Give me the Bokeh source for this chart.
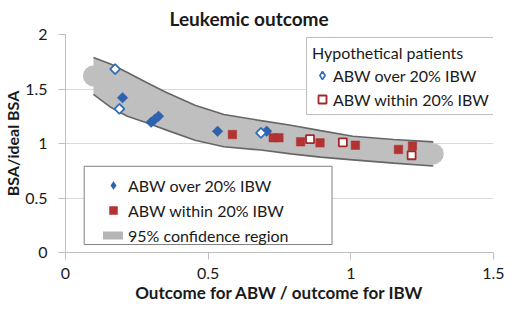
import numpy as np
from bokeh.plotting import figure
from bokeh.models import Legend, LegendItem, FixedTicker, BoxAnnotation
from bokeh.embed import file_html
from bokeh.resources import INLINE

# ---------------- data ----------------
x_ticks = [0, 0.5, 1, 1.5]
x_tick_labels = ["0", "0.5", "1", "1.5"]
y_ticks = [0, 0.5, 1, 1.5, 2]
y_tick_labels = ["0", "0.5", "1", "1.5", "2"]

# observed patients
over_x = [0.200, 0.300, 0.313, 0.326, 0.533, 0.705]
over_y = [1.420, 1.195, 1.222, 1.250, 1.112, 1.113]
within_x = [0.585, 0.728, 0.748, 0.824, 0.892, 1.016, 1.167, 1.216]
within_y = [1.082, 1.053, 1.053, 1.015, 1.006, 0.985, 0.945, 0.978]

# hypothetical patients
hyp_over_x = [0.174, 0.189, 0.685]
hyp_over_y = [1.682, 1.318, 1.098]
hyp_within_x = [0.857, 0.972, 1.213]
hyp_within_y = [1.040, 1.011, 0.892]

# 95% confidence region (upper / lower edges)
band_x = [0.098, 0.16, 0.217, 0.284, 0.352, 0.454, 0.555, 0.685, 0.79, 0.894, 1.007, 1.15, 1.289]
band_upper = [1.79, 1.727, 1.652, 1.56, 1.47, 1.35, 1.266, 1.21, 1.167, 1.118, 1.067, 1.037, 1.015]
band_lower = [1.45, 1.33, 1.25, 1.19, 1.125, 1.03, 0.97, 0.94, 0.905, 0.875, 0.85, 0.82, 0.794]

FONT = "Lato"
TXT = "#1a1a1a"
BLUE = "#2E62AE"
RED = "#B33333"
BAND = "#bfbfbf"
EDGE = "#666666"
NAN = [np.nan]

p = figure(width=504, height=307, x_range=(0, 1.5), y_range=(0, 2),
           output_backend="svg", toolbar_location=None,
           min_border_left=58, min_border_right=11,
           min_border_top=32, min_border_bottom=55)
p.outline_line_color = None
p.xgrid.visible = False
p.ygrid.grid_line_color = "#d9d9d9"
p.ygrid.grid_line_width = 1

# title
p.title.text = "Leukemic outcome"
p.title.align = "left"
p.title.offset = 104
p.title.text_font = FONT
p.title.text_font_size = "19px"
p.title.text_font_style = "bold"
p.title.text_color = TXT
p.title.standoff = 9

for ax in (p.xaxis[0], p.yaxis[0]):
    ax.axis_line_color = "#bfbfbf"
    ax.major_tick_line_color = "#bfbfbf"
    ax.minor_tick_line_color = None
    ax.major_tick_in = 0
    ax.major_tick_out = 7
    ax.major_label_text_font = FONT
    ax.major_label_text_font_size = "16px"
    ax.major_label_text_color = TXT
    ax.axis_label_text_font = FONT
    ax.axis_label_text_font_style = "bold"
    ax.axis_label_text_color = TXT
    ax.axis_label_standoff = 0

p.xaxis.ticker = FixedTicker(ticks=x_ticks)
p.xaxis.major_label_overrides = {t: l for t, l in zip(x_ticks, x_tick_labels)}
p.xaxis.major_label_standoff = 8
p.xaxis.axis_label = "Outcome for ABW / outcome for IBW"
p.xaxis.axis_label_text_font_size = "17px"
p.yaxis.ticker = FixedTicker(ticks=y_ticks)
p.yaxis.major_label_overrides = {t: l for t, l in zip(y_ticks, y_tick_labels)}
p.yaxis.major_label_standoff = 11
p.yaxis.axis_label = "BSA/ideal BSA"
p.yaxis.axis_label_text_font_size = "16px"

# confidence band
band_mid = [(u + l) / 2 for u, l in zip(band_upper, band_lower)]
p.varea(x=band_x, y1=band_lower, y2=band_upper, fill_color=BAND)
p.scatter(x=[band_x[0], band_x[-1]], y=[band_mid[0], band_mid[-1]], marker="circle",
          size=21, fill_color=BAND, line_color=None)
p.line(x=band_x, y=band_upper, line_color=EDGE, line_width=1.6)
p.line(x=band_x, y=band_lower, line_color=EDGE, line_width=1.6)

# points
r_over = p.scatter(x=over_x, y=over_y, marker="square", angle=np.pi / 4, size=7.5,
                   fill_color=BLUE, line_color=BLUE, line_width=0.5)
r_within = p.scatter(x=within_x, y=within_y, marker="square", size=8.5,
                     fill_color=RED, line_color=RED, line_width=0.5)
r_hover = p.scatter(x=hyp_over_x, y=hyp_over_y, marker="square", angle=np.pi / 4, size=7,
                    fill_color="white", line_color="#2F6DB8", line_width=1.8)
r_hwithin = p.scatter(x=hyp_within_x, y=hyp_within_y, marker="square", size=8,
                      fill_color="white", line_color="#A02A2A", line_width=1.8)

# legend-only glyphs (never visible in the plot area: NaN data)
lg_over = p.scatter(x=NAN, y=NAN, marker="diamond", fill_color=BLUE, line_color=BLUE, line_width=0.5)
lg_hover = p.scatter(x=NAN, y=NAN, marker="diamond", fill_color="white",
                     line_color="#2F6DB8", line_width=1.6)
lg_band = p.line(x=[np.nan, np.nan], y=[np.nan, np.nan], line_color="#b5b5b5",
                 line_width=8, line_cap="round")

# legends
def style(leg):
    leg.label_text_font = FONT
    leg.label_text_font_size = "16px"
    leg.label_text_color = TXT
    leg.glyph_width = 20
    leg.glyph_height = 20
    leg.label_height = 20
    leg.margin = 0
    leg.padding = 5

leg1 = Legend(items=[LegendItem(label="ABW over 20% IBW", renderers=[lg_hover]),
                     LegendItem(label="ABW within 20% IBW", renderers=[r_hwithin])],
              location=(241, 137), title="Hypothetical patients")
style(leg1)
leg1.border_line_color = "#808080"
leg1.background_fill_color = "white"
leg1.background_fill_alpha = 1
leg1.title_text_font = FONT
leg1.title_text_font_size = "16px"
leg1.title_text_font_style = "normal"
leg1.title_text_color = TXT
leg1.title_standoff = 3
leg1.label_standoff = 1
leg1.spacing = 4

# frame of the lower-left legend (white box with grey border)
p.add_layout(BoxAnnotation(left=0.0655, right=0.934, bottom=0.073, top=0.791,
                           fill_color="white", fill_alpha=1,
                           line_color="#808080", line_width=1, line_alpha=1))

leg2 = Legend(items=[LegendItem(label="ABW over 20% IBW", renderers=[lg_over]),
                     LegendItem(label="ABW within 20% IBW", renderers=[r_within]),
                     LegendItem(label="95% confidence region", renderers=[lg_band])],
              location=(38, 7))
style(leg2)
leg2.border_line_color = None
leg2.background_fill_alpha = 0
leg2.label_standoff = 5
leg2.spacing = 5

p.add_layout(leg1, "center")
p.add_layout(leg2, "center")

open("out.html", "w").write(file_html(p, INLINE))
